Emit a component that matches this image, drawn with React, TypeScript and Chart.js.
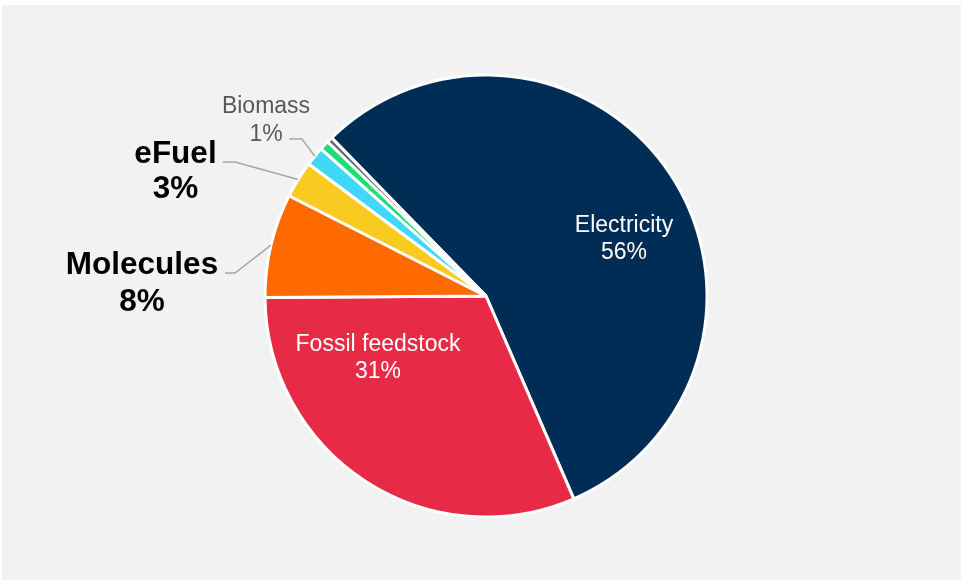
import React, { useEffect, useRef } from "react";
import { Chart, registerables } from "chart.js";

Chart.register(...registerables);

const categories = ["Electricity", "Fossil feedstock", "Molecules", "eFuel", "Biomass", "Other A", "Other B"];
const shares = [55.8, 31.4, 7.6, 2.7, 1.4, 0.7, 0.4];
const sliceColors = ["#002D56", "#E72B46", "#FF6A00", "#F9CB21", "#3FD8F7", "#20DC74", "#5C6670"];

const FONT = '"Liberation Sans", Arial, sans-serif';

// label layout relative to pie center (not data)
const labelLayout = [
  { idx: 0, dx: 138, dy: -64, size: 23, bold: false, color: "#ffffff", lh: 26.7 },
  { idx: 1, dx: -108, dy: 55, size: 23, bold: false, color: "#ffffff", lh: 26.7 },
  { idx: 2, dx: -344, dy: -22, size: 31.5, bold: true, color: "#000000", lh: 37, leader: { ex: -251, ey: -23, tx: -261 } },
  { idx: 3, dx: -310.5, dy: -133, size: 31.5, bold: true, color: "#000000", lh: 35, leader: { ex: -251, ey: -134, tx: -263 } },
  { idx: 4, dx: -220, dy: -183, size: 23, bold: false, color: "#595959", lh: 27.5, leader: { ex: -184, ey: -157, tx: -197 } },
];

const labelPlugin = {
  id: "pieLabels",
  afterDatasetsDraw(chart: any) {
    const ctx = chart.ctx;
    const meta = chart.getDatasetMeta(0);
    const data = chart.data.datasets[0].data as number[];
    const labels = chart.data.labels as string[];
    ctx.save();
    labelLayout.forEach((l) => {
      const arc: any = meta.data[l.idx];
      const cx = arc.x;
      const cy = arc.y;
      if (l.leader) {
        const mid = (arc.startAngle + arc.endAngle) / 2;
        const r = arc.outerRadius;
        ctx.beginPath();
        ctx.strokeStyle = "#A6A6A6";
        ctx.lineWidth = 1.5;
        ctx.moveTo(cx + Math.cos(mid) * r, cy + Math.sin(mid) * r);
        ctx.lineTo(cx + l.leader.ex, cy + l.leader.ey);
        ctx.lineTo(cx + l.leader.tx, cy + l.leader.ey);
        ctx.stroke();
      }
      ctx.fillStyle = l.color;
      ctx.textAlign = "center";
      ctx.textBaseline = "alphabetic";
      ctx.font = `${l.bold ? "bold " : ""}${l.size}px ${FONT}`;
      ctx.fillText(labels[l.idx], cx + l.dx, cy + l.dy);
      ctx.fillText(`${Math.round(data[l.idx])}%`, cx + l.dx, cy + l.dy + l.lh);
    });
    ctx.restore();
  },
};

export default function App() {
  const ref = useRef<HTMLCanvasElement>(null);
  useEffect(() => {
    if (!ref.current) return;
    const chart = new Chart(ref.current, {
      type: "pie",
      data: {
        labels: categories,
        datasets: [
          {
            data: shares,
            backgroundColor: sliceColors,
            borderColor: "#ffffff",
            borderWidth: 3,
          },
        ],
      },
      options: {
        animation: false,
        responsive: false,
        rotation: -44.3,
        radius: 221,
        layout: { padding: { left: 236, right: 225, top: 46, bottom: 34 } },
        plugins: {
          legend: { display: false },
          tooltip: { enabled: false },
        },
      },
      plugins: [labelPlugin],
    });
    return () => chart.destroy();
  }, []);
  return (
    <div style={{ position: "fixed", left: 0, top: 0, width: 961, height: 580, background: "#ffffff" }}>
      <div style={{ position: "absolute", left: 2, top: 5, width: 959, height: 575, background: "#F2F2F2" }} />
      <canvas ref={ref} width={961} height={580} style={{ position: "absolute", left: 0, top: 0, width: 961, height: 580 }} />
    </div>
  );
}
